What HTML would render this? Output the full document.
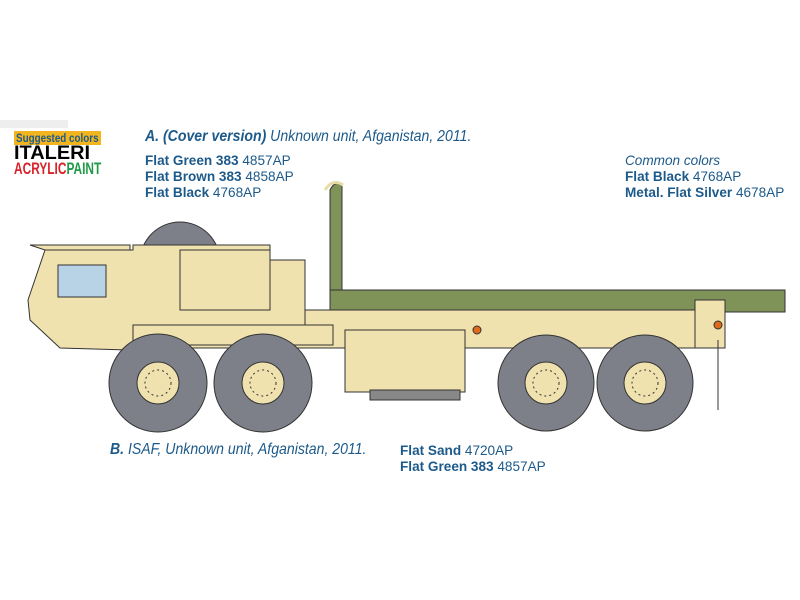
<!DOCTYPE html>
<html><head><style>
body{margin:0;width:800px;height:600px;background:#fff;overflow:hidden;position:relative;font-family:"Liberation Sans",sans-serif}
.t{position:absolute;color:#1d5a8a;font-size:14px;white-space:nowrap;transform:scaleX(.97);transform-origin:left}
.t b{font-weight:bold}
.i{font-style:italic}
.h{transform:scaleX(.88)}
</style></head><body>
<div style="position:absolute;left:0;top:120px;width:68px;height:8px;background:#eee"></div>
<div style="position:absolute;left:14px;top:131px;width:87px;height:14px;background:#f2b51e"></div>
<div style="position:absolute;left:16px;top:131px;color:#1d5a8a;font-weight:bold;font-size:12px;line-height:14px;white-space:nowrap;transform:scaleX(.82);transform-origin:left">Suggested colors</div>
<div style="position:absolute;left:14px;top:145px;font-weight:900;font-size:19px;line-height:17px;white-space:nowrap;transform:scaleX(1.05);transform-origin:left">ITALERI</div>
<div style="position:absolute;left:14px;top:161px;font-weight:bold;font-size:17px;line-height:16px;white-space:nowrap;transform:scaleX(.7);transform-origin:left"><span style="color:#d8232a">ACRYLIC</span><span style="color:#1f9a48">PAINT</span></div>
<div class="t i h" style="left:145px;top:128px;font-size:16px"><b>A. (Cover version)</b> Unknown unit, Afganistan, 2011.</div>
<div class="t" style="left:145px;top:152px"><b>Flat Green 383</b> 4857AP</div>
<div class="t" style="left:145px;top:168px"><b>Flat Brown 383</b> 4858AP</div>
<div class="t" style="left:145px;top:184px"><b>Flat Black</b> 4768AP</div>
<div class="t i" style="left:625px;top:152px">Common colors</div>
<div class="t" style="left:625px;top:168px"><b>Flat Black</b> 4768AP</div>
<div class="t" style="left:625px;top:184px"><b>Metal. Flat Silver</b> 4678AP</div>
<div class="t i h" style="left:110px;top:441px;font-size:16px"><b>B.</b> ISAF, Unknown unit, Afganistan, 2011.</div>
<div class="t" style="left:400px;top:442px"><b>Flat Sand</b> 4720AP</div>
<div class="t" style="left:400px;top:458px"><b>Flat Green 383</b> 4857AP</div>
<svg width="800" height="600" style="position:absolute;left:0;top:0" stroke="#333" stroke-width="1">
<circle cx="180" cy="262" r="40" fill="#7d8088"/>
<path d="M330 190 q5-10 12-5 v110 h-12z" fill="#7f9258"/>
<path d="M325 190 q8-12 18-5" fill="none" stroke-width="3" stroke="#e8dca8"/>
<rect x="330" y="290" width="455" height="22" fill="#7f9258"/>
<rect x="130" y="310" width="590" height="38" fill="#efe2ae"/>
<rect x="345" y="330" width="120" height="62" fill="#efe2ae"/>
<rect x="370" y="390" width="90" height="10" fill="#888"/>
<path d="M28 300 L45 250 H133 V245 H270 V260 H305 V330 L130 350 L60 348 L30 320 Z" fill="#efe2ae"/>
<path d="M30 245 H130 V250 H45 Z" fill="#efe2ae"/>
<rect x="58" y="265" width="48" height="32" fill="#b9d3e6"/>
<rect x="180" y="250" width="90" height="60" fill="#efe2ae"/>
<rect x="133" y="325" width="200" height="20" fill="#efe2ae"/>
<rect x="695" y="300" width="30" height="48" fill="#efe2ae"/>
<line x1="718" y1="340" x2="718" y2="410"/>
<circle cx="477" cy="330" r="4" fill="#e06a1b"/>
<circle cx="718" cy="325" r="4" fill="#e06a1b"/>
<g fill="#7d8088"><circle cx="158" cy="383" r="49"/><circle cx="263" cy="383" r="49"/><circle cx="546" cy="383" r="48"/><circle cx="645" cy="383" r="48"/></g>
<g fill="#efe2ae"><circle cx="158" cy="383" r="21"/><circle cx="263" cy="383" r="21"/><circle cx="546" cy="383" r="21"/><circle cx="645" cy="383" r="21"/></g>
<g fill="none" stroke-dasharray="2 3"><circle cx="158" cy="383" r="13"/><circle cx="263" cy="383" r="13"/><circle cx="546" cy="383" r="13"/><circle cx="645" cy="383" r="13"/></g>
</svg>
</body></html>
